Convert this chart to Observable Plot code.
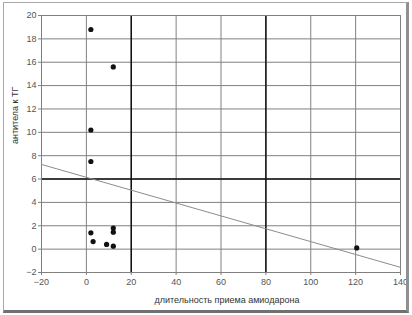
<!DOCTYPE html>
<html>
<head>
<meta charset="utf-8">
<script src="https://cdn.jsdelivr.net/npm/d3@7"></script>
<script src="https://cdn.jsdelivr.net/npm/@observablehq/plot@0.6"></script>
<style>
  html, body { margin: 0; padding: 0; background: #ffffff; }
  #wrap { position: relative; width: 412px; height: 315px; overflow: hidden; }
  #frame { position: absolute; left: 3px; top: 2px; width: 402px; height: 307px;
           border-left: 1px solid #a8a8a8; border-top: 1px solid #a8a8a8;
           border-right: 3px solid #909090; border-bottom: 3px solid #707070; pointer-events: none; }
</style>
</head>
<body>
<div id="wrap"><div id="frame"></div></div>
<script>
// Data
const durationX = [2, 12, 2, 2, 2, 3, 9, 12, 12, 12, 120.5];
const antibodyY = [18.8, 15.6, 10.2, 7.5, 1.4, 0.65, 0.4, 1.8, 1.45, 0.25, 0.1];
const trendX = [-20, 140];
const trendY = [7.25, -1.56];
const xTicks = [-20, 0, 20, 40, 60, 80, 100, 120, 140];
const yTicks = [-2, 0, 2, 4, 6, 8, 10, 12, 14, 16, 18, 20];
const boldX = [20, 80];
const boldY = [6];
const xLabel = "длительность приема амиодарона";
const yLabel = "антитела к ТГ";

const points = durationX.map((x, i) => ({x, y: antibodyY[i]}));
const trend = trendX.map((x, i) => ({x, y: trendY[i]}));

const chart = Plot.plot({
  width: 412,
  height: 315,
  marginLeft: 41,
  marginRight: 12,
  marginTop: 15,
  marginBottom: 43,
  style: {fontFamily: "Liberation Sans, Arial, sans-serif", fontSize: "9px", color: "#555", background: "transparent"},
  x: {domain: [-20, 140], ticks: xTicks, tickSize: 3, tickPadding: 3, label: null},
  y: {domain: [-2, 20], ticks: yTicks, tickSize: 3, tickPadding: 2, label: null},
  marks: [
    Plot.gridX(xTicks, {stroke: "#808080", strokeOpacity: 1, strokeWidth: 1}),
    Plot.gridY(yTicks, {stroke: "#808080", strokeOpacity: 1, strokeWidth: 1}),
    Plot.ruleX(boldX, {stroke: "#111", strokeWidth: 1.5}),
    Plot.ruleY(boldY, {stroke: "#111", strokeWidth: 1.5}),
    Plot.frame({stroke: "#808080"}),
    Plot.axisX({ticks: xTicks, tickSize: 3, tickPadding: 3, fill: "#555", stroke: "#808080"}),
    Plot.axisY({ticks: yTicks, tickSize: 3, tickPadding: 2, fill: "#555", stroke: "#808080"}),
    Plot.line(trend, {x: "x", y: "y", stroke: "#8c8c8c", strokeWidth: 1}),
    Plot.dot(points, {x: "x", y: "y", r: 2.6, fill: "#111", stroke: "none"}),
    Plot.text([xLabel], {frameAnchor: "bottom", dy: 30, dx: 6, fill: "#333", fontSize: 9}),
    Plot.text([yLabel], {frameAnchor: "left", dx: -26, rotate: -90, fill: "#333", fontSize: 9})
  ]
});
chart.style.position = "absolute";
chart.style.left = "0px";
chart.style.top = "0px";
document.getElementById("wrap").prepend(chart);
</script>
</body>
</html>
